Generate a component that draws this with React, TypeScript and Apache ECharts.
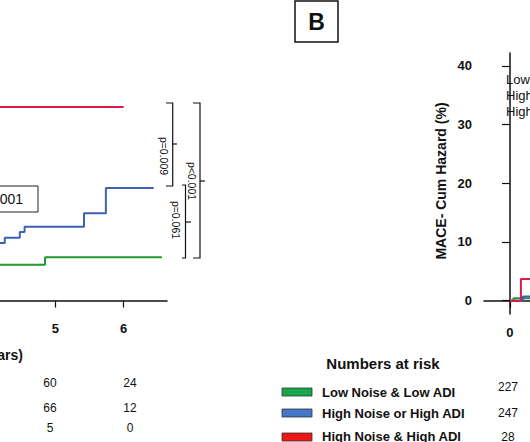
import React, { useEffect, useRef } from "react";
import * as echarts from "echarts";

const FONT = "'Liberation Sans', Arial, Helvetica, sans-serif";

// Group names and colours
const groupNames = ["Low Noise & Low ADI", "High Noise or High ADI", "High Noise & High ADI"];
const lineColors = ["#23982f", "#3b60b6", "#de1a48"];
const boxColors = ["#18a84c", "#4677c6", "#ee1616"];

// Panel A (visible part): event times (years) and cumulative hazard (%)
const greenA_t = [4.0, 4.85, 6.56];
const greenA_v = [6.1, 7.4, 7.4];
const blueA_t = [4.0, 4.26, 4.48, 4.55, 5.42, 5.74, 6.44];
const blueA_v = [9.8, 10.7, 11.7, 12.6, 14.9, 19.2, 19.2];
const redA_t = [4.0, 6.0];
const redA_v = [33.0, 33.0];

// Panel B (visible part)
const greenB_t = [0, 0.05, 1.0];
const greenB_v = [0, 0.4, 0.4];
const blueB_t = [0, 0.19, 1.0];
const blueB_v = [0, 0.7, 0.7];
const redB_t = [0, 0.16, 1.0];
const redB_v = [0, 3.7, 3.7];

// Axis ticks
const xTicksA = [5, 6];
const xTicksB = [0];
const yTicksB = [0, 10, 20, 30, 40];

// Numbers at risk
const riskA_y5 = [60, 66, 5];
const riskA_y6 = [24, 12, 0];
const riskB_y0 = [227, 247, 28];

// p-values
const pLabels = ["p=0.009", "p=0.061", "p<0.001"];

const zip = (t: number[], v: number[]) => t.map((x, i) => [x, v[i]]);

export default function App() {
  const ref = useRef<HTMLDivElement>(null);
  useEffect(() => {
    if (!ref.current) return;
    const chart = echarts.init(ref.current, null, { renderer: "svg" });
    const lineSeries = (name: string, data: number[][], color: string, idx: number, z: number) => ({
      type: "line",
      name,
      data,
      step: "end",
      xAxisIndex: idx,
      yAxisIndex: idx,
      showSymbol: false,
      symbol: "none",
      z,
      lineStyle: { color, width: 2 },
      itemStyle: { color },
    });
    const txt = (x: number, y: number, text: string, o: any = {}) => ({
      type: "text",
      x,
      y,
      rotation: o.rotation || 0,
      style: {
        text,
        fill: "#111",
        font: `${o.weight || "normal"} ${o.size || 12}px ${FONT}`,
        textAlign: o.align || "center",
        textVerticalAlign: "middle",
      },
    });
    const pl = (points: number[][]) => ({
      type: "polyline",
      shape: { points },
      style: { stroke: "#111", lineWidth: 1.2, fill: "none" },
    });

    const graphics: any[] = [];
    // Panel B label box
    graphics.push({ type: "rect", shape: { x: 295, y: 1, width: 43, height: 41 }, style: { stroke: "#111", lineWidth: 1.5, fill: "#fff" } });
    graphics.push(txt(316.5, 22, "B", { weight: "bold", size: 23 }));
    // p-value box panel A
    graphics.push({ type: "rect", shape: { x: -70, y: 186, width: 108, height: 26 }, style: { stroke: "#222", lineWidth: 1, fill: "#fff" } });
    graphics.push(txt(23, 199, "Log-rank p<0.001", { size: 14, align: "right" }));
    // Brackets
    graphics.push(pl([[166, 103], [172.7, 103], [172.7, 186], [166, 186]]));
    graphics.push(pl([[172.7, 144], [177, 144]]));
    graphics.push(pl([[182, 185], [185.5, 185], [185.5, 258], [182, 258]]));
    graphics.push(pl([[185.5, 222], [191, 222]]));
    graphics.push(pl([[193, 103], [200, 103], [200, 258], [193, 258]]));
    graphics.push(pl([[200, 181], [205, 181]]));
    graphics.push(txt(164, 156, pLabels[0], { size: 10.5, rotation: -Math.PI / 2 }));
    graphics.push(txt(176, 220, pLabels[1], { size: 10.5, rotation: -Math.PI / 2 }));
    graphics.push(txt(192, 181, pLabels[2], { size: 10.5, rotation: -Math.PI / 2 }));
    // Panel A x title
    graphics.push(txt(23, 355, "Time (years)", { weight: "bold", size: 14, align: "right" }));
    // Panel A numbers at risk
    const rowsA = [383, 408, 428];
    rowsA.forEach((y, i) => {
      graphics.push(txt(50, y, String(riskA_y5[i]), { size: 12 }));
      graphics.push(txt(130, y, String(riskA_y6[i]), { size: 12 }));
    });
    // Panel B legend in plot
    const legY = [79, 95, 111];
    groupNames.forEach((n, i) => graphics.push(txt(506, legY[i], n, { size: 13, align: "left" })));
    // Panel B y title
    graphics.push(txt(441, 181, "MACE- Cum Hazard (%)", { weight: "bold", size: 14, rotation: Math.PI / 2 }));
    // Numbers at risk block
    graphics.push(txt(383, 363, "Numbers at risk", { weight: "bold", size: 15 }));
    const rowsB = [392, 413, 436];
    const boxY = [388, 409, 433];
    groupNames.forEach((n, i) => {
      graphics.push({ type: "rect", shape: { x: 282, y: boxY[i], width: 30, height: 8 }, style: { fill: boxColors[i], stroke: "#333", lineWidth: 0.8 } });
      graphics.push(txt(322, rowsB[i], n, { weight: "bold", size: 13, align: "left" }));
    });
    const numY = [387, 413, 437];
    riskB_y0.forEach((v, i) => graphics.push(txt(508, numY[i], String(v), { size: 12 })));

    const axisLine = { show: true, lineStyle: { color: "#111", width: 1.5 } };
    chart.setOption({
      animation: false,
      backgroundColor: "#fff",
      grid: [
        { left: 0, top: 65.8, width: 167, height: 244.2, outerBoundsMode: "none", containLabel: false },
        { left: 484, top: 53, width: 46, height: 261, outerBoundsMode: "none", containLabel: false },
      ],
      xAxis: [
        {
          type: "value", gridIndex: 0, min: 4.19, max: 6.635,
          axisLine,
          splitLine: { show: false },
          axisTick: { show: true, length: 7, customValues: xTicksA, lineStyle: { color: "#111", width: 1.2 } },
          axisLabel: { customValues: xTicksA, margin: 12, fontFamily: FONT, fontWeight: "bold", fontSize: 13, color: "#111" },
        },
        {
          type: "value", gridIndex: 1, min: -0.38, max: 0.293,
          axisLine,
          splitLine: { show: false },
          axisTick: { show: true, length: 7, customValues: xTicksB, lineStyle: { color: "#111", width: 1.2 } },
          axisLabel: { customValues: xTicksB, margin: 12, fontFamily: FONT, fontWeight: "bold", fontSize: 13, color: "#111" },
        },
      ],
      yAxis: [
        { type: "value", gridIndex: 0, min: -1.6, max: 40, show: false, splitLine: { show: false } },
        {
          type: "value", gridIndex: 1, min: -2.27, max: 42.2,
          axisLine,
          splitLine: { show: false },
          axisTick: { show: true, length: 8, customValues: yTicksB, lineStyle: { color: "#111", width: 1.2 } },
          axisLabel: { customValues: yTicksB, margin: 12, fontFamily: FONT, fontWeight: "bold", fontSize: 13, color: "#111" },
        },
      ],
      series: [
        lineSeries(groupNames[0], zip(greenA_t, greenA_v), lineColors[0], 0, 2),
        lineSeries(groupNames[1], zip(blueA_t, blueA_v), lineColors[1], 0, 3),
        lineSeries(groupNames[2], zip(redA_t, redA_v), lineColors[2], 0, 4),
        lineSeries(groupNames[0], zip(greenB_t, greenB_v), lineColors[0], 1, 2),
        lineSeries(groupNames[1], zip(blueB_t, blueB_v), lineColors[1], 1, 3),
        lineSeries(groupNames[2], zip(redB_t, redB_v), lineColors[2], 1, 4),
      ],
      graphic: graphics,
    });
    return () => chart.dispose();
  }, []);
  return <div ref={ref} style={{ position: "fixed", left: 0, top: 0, width: 530, height: 442 }} />;
}
